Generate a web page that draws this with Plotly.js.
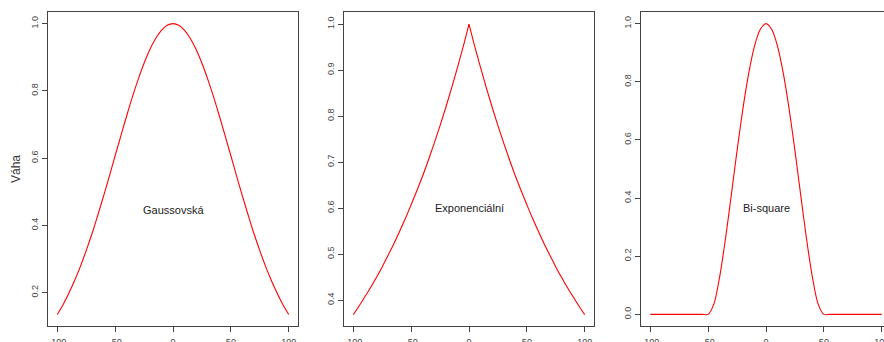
<!DOCTYPE html>
<html>
<head>
<meta charset="utf-8">
<script src="https://cdn.plot.ly/plotly-3.0.1.min.js"></script>
<style>
html,body{margin:0;padding:0;overflow:hidden;background:#fff;}
#chart{width:900px;height:360px;}
</style>
</head>
<body>
<div id="chart"></div>
<script>
// distance values (x axis)
var distance = [-100,-95,-90,-85,-80,-75,-70,-65,-60,-55,-50,-45,-40,-35,-30,-25,-20,-15,-10,-5,0,
                5,10,15,20,25,30,35,40,45,50,55,60,65,70,75,80,85,90,95,100];
var gaussWeights = [0.135,0.164,0.198,0.236,0.278,0.325,0.375,0.430,0.487,0.546,0.607,0.667,0.726,0.783,0.835,0.882,0.923,0.956,0.980,0.995,1.000,
                    0.995,0.980,0.956,0.923,0.882,0.835,0.783,0.726,0.667,0.607,0.546,0.487,0.430,0.375,0.325,0.278,0.236,0.198,0.164,0.135];
var expWeights = [0.368,0.387,0.407,0.427,0.449,0.472,0.497,0.522,0.549,0.577,0.607,0.638,0.670,0.705,0.741,0.779,0.819,0.861,0.905,0.951,1.000,
                  0.951,0.905,0.861,0.819,0.779,0.741,0.705,0.670,0.638,0.607,0.577,0.549,0.522,0.497,0.472,0.449,0.427,0.407,0.387,0.368];
var bisqWeights = [0,0,0,0,0,0,0,0,0,0,0,0.036,0.130,0.260,0.410,0.563,0.706,0.828,0.922,0.980,1.000,
                   0.980,0.922,0.828,0.706,0.563,0.410,0.260,0.130,0.036,0,0,0,0,0,0,0,0,0,0,0];

var xTickVals = [-100,-50,0,50,100];
var xTickText = ['-100','-50','0','50','100'];
var panelLabels = ['Gaussovská','Exponenciální','Bi-square'];
var labelY = [0.445,0.6,0.366];
var yAxisTitle = 'Váha';

var W = 900, H = 360;
var boxes = [[48,298],[344,594],[641,891]];
var yDom = [1-326/H, 1-12/H];
var axCol = '#444';
var lineStyle = {color:'#ff0000', width:1.1};
var mid = distance.indexOf(0);

var traces = [
  {x:distance, y:gaussWeights, xaxis:'x', yaxis:'y', mode:'lines', line:Object.assign({shape:'spline'},lineStyle), hoverinfo:'none'},
  // exponential drawn as two smooth halves so the peak stays sharp
  {x:distance.slice(0,mid+1), y:expWeights.slice(0,mid+1), xaxis:'x2', yaxis:'y2', mode:'lines', line:Object.assign({shape:'spline'},lineStyle), hoverinfo:'none'},
  {x:distance.slice(mid), y:expWeights.slice(mid), xaxis:'x2', yaxis:'y2', mode:'lines', line:Object.assign({shape:'spline'},lineStyle), hoverinfo:'none'},
  {x:distance, y:bisqWeights, xaxis:'x3', yaxis:'y3', mode:'lines', line:Object.assign({shape:'spline', smoothing:0.8},lineStyle), hoverinfo:'none'}
];

function xa(i, anchor){
  return {domain:[boxes[i][0]/W, boxes[i][1]/W], anchor:anchor, range:[-108,108],
    tickvals:xTickVals, ticktext:xTickText, ticks:'outside', ticklen:5, tickwidth:1, tickcolor:axCol,
    ticklabelstandoff:2,
    showline:true, linecolor:axCol, linewidth:1, mirror:true, showgrid:false, zeroline:false,
    tickfont:{family:'Liberation Sans, Arial, sans-serif', size:9, color:'#444'}};
}
function ya(i, anchor, range, dtick){
  return {domain:yDom, anchor:anchor, range:range, dtick:dtick, tick0:0, tickformat:'.1f',
    ticks:'outside', ticklen:5, tickwidth:1, tickcolor:axCol, tickangle:-90,
    showline:true, linecolor:axCol, linewidth:1, mirror:true, showgrid:false, zeroline:false,
    tickfont:{family:'Liberation Sans, Arial, sans-serif', size:9, color:'#444'}};
}

var annFont = {family:'Liberation Sans, Arial, sans-serif', size:11, color:'#222'};
var layout = {
  width:W, height:H, margin:{l:0,r:0,t:0,b:0}, showlegend:false,
  paper_bgcolor:'#fff', plot_bgcolor:'#fff',
  xaxis:xa(0,'y'), yaxis:ya(0,'x',[0.1007,1.0346],0.2),
  xaxis2:xa(1,'y2'), yaxis2:ya(1,'x2',[0.3435,1.0261],0.1),
  xaxis3:xa(2,'y3'), yaxis3:ya(2,'x3',[-0.04,1.04],0.2),
  annotations:[
    {xref:'x', yref:'y', x:0, y:labelY[0], text:panelLabels[0], showarrow:false, font:annFont},
    {xref:'x2', yref:'y2', x:0, y:labelY[1], text:panelLabels[1], showarrow:false, font:annFont},
    {xref:'x3', yref:'y3', x:0, y:labelY[2], text:panelLabels[2], showarrow:false, font:annFont},
    {xref:'paper', yref:'paper', x:16/W, y:1-169/H, xanchor:'center', yanchor:'middle',
     text:yAxisTitle, textangle:-90, showarrow:false,
     font:{family:'Liberation Sans, Arial, sans-serif', size:12, color:'#333'}}
  ]
};
Plotly.newPlot('chart', traces, layout, {staticPlot:true, displayModeBar:false});
</script>
</body>
</html>
